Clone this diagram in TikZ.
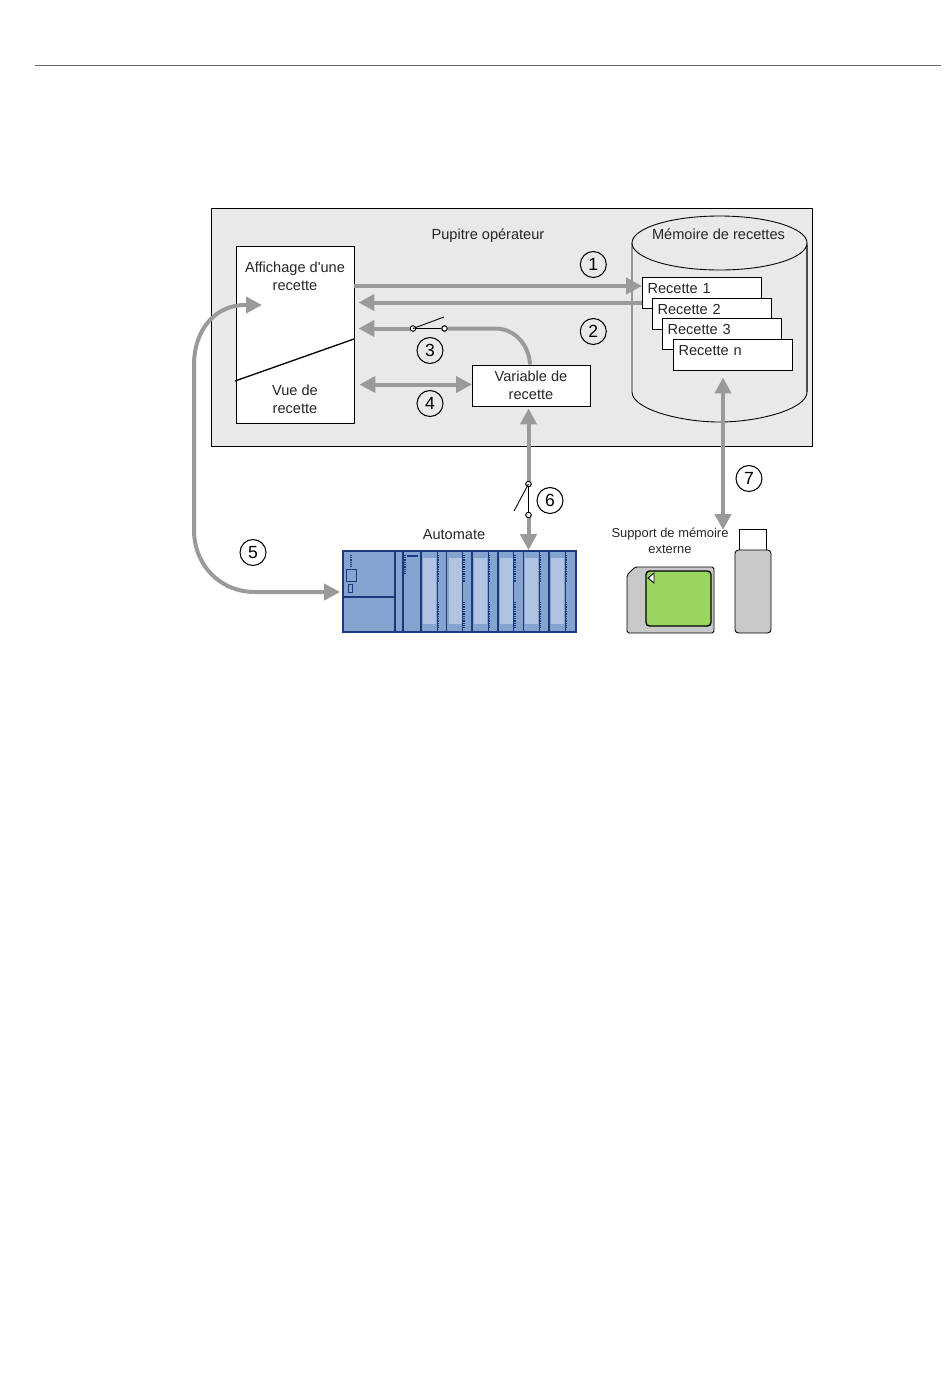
\documentclass[tikz,border=0pt]{standalone}
\usepackage{fontspec}
\setmainfont[Ligatures=TeXOff]{Liberation Sans}
\usetikzlibrary{arrows.meta,positioning}

\definecolor{fondgris}{HTML}{E9E9E9}
\definecolor{flechegris}{HTML}{9A9A9A}
\definecolor{plcbleu}{HTML}{85A3CF}
\definecolor{plcclair}{HTML}{B0C4E0}
\definecolor{plcfonce}{HTML}{1A3A80}
\definecolor{cartegris}{HTML}{C8C8C8}
\definecolor{cartevert}{HTML}{9BD55F}

\begin{document}
\begin{tikzpicture}[
  x=0.02cm, y=-0.02cm,
  font=\fontsize{8.3}{10.2}\selectfont, >={Triangle[length=3.2mm,width=3.2mm]},
  lbl/.style={align=center, inner sep=0pt, text=black!85},
  boite/.style={draw=black, line width=0.5pt, fill=white, align=center, inner sep=0pt},
  rec/.style={boite, minimum width=2.38cm, minimum height=0.62cm, text width=2.16cm, align=left,
              text height=9.1pt, text depth=8.5pt, text=black!85},
  num/.style={circle, draw=black, line width=0.6pt, minimum size=0.52cm, inner sep=0pt,
              font=\fontsize{10}{12}\selectfont},
  fl/.style={line width=0.08cm, draw=flechegris},
  contact/.style={circle, draw=black, fill=white, line width=0.6pt, minimum size=0.11cm, inner sep=0pt},
  trait/.style={line width=0.5pt, draw=black},
  plc/.style={draw=plcfonce, line width=0.6pt},
]
\useasboundingbox (0,0) rectangle (950,1397);
% Filet du haut
\coordinate (hautg) at (35,65);
\coordinate (hautd) at (941,65);
\draw[line width=0.5pt, draw=black!60] (hautg) -- (hautd);

% Pupitre
\node[draw=black, line width=0.5pt, fill=fondgris, minimum width=12.02cm, minimum height=4.76cm, inner sep=0pt]
  (pupitre) at (511.8,327) {};
\node[lbl] (titre) at (488,235.5) {Pupitre opérateur};

% Memoire de recettes
\draw[trait, fill=fondgris] (632,243) -- (632,392) .. controls (632,409) and (680,422) .. (719.5,422)
  .. controls (759,422) and (807,409) .. (807,392) -- (807,243);
\draw[line width=1pt, draw=black!70] (807,245) -- (807,392);
\draw[trait, fill=fondgris] (719.5,243) ellipse [x radius=87.5, y radius=27];
\node[lbl] (memoire) at (718.5,234.5) {Mémoire de recettes};
\node[rec] (rec1) at (701.5,292.5) {Recette 1};
\node[rec] (rec2) at (711.5,313.5) {Recette 2};
\node[rec] (rec3) at (721.5,333.5) {Recette 3};
\node[rec] (recn) at (732.5,354.5) {Recette n};

% Ecran et variable
\node[boite, minimum width=2.36cm, minimum height=3.54cm] (ecran) at (295,334.5) {};
\draw[line width=0.75pt, draw=black] (235,381) -- (354,339);
\node[lbl] (affichage) at (295,276) {Affichage d'une\\recette};
\node[lbl] (vue) at (295,399.5) {Vue de\\recette};
\node[boite, minimum width=2.36cm, minimum height=0.82cm, text=black!85] (var) at (531,385.5) {Variable de\\recette};

% Automate
\node[draw=plcfonce, line width=0.9pt, fill=plcbleu, minimum width=4.66cm, minimum height=1.62cm, inner sep=0pt]
  (automate) at (459.5,591.5) {};
\node[lbl] (autolbl) at (454,535) {Automate};
\draw[plc, line width=1pt] (395,551) -- (395,632);
\draw[plc, line width=0.9pt] (343,597) -- (395,597);
\draw[plc] (403,551) -- (403,632);
\draw[plc, line width=0.4pt] (346,569) rectangle (356,581);
\draw[plc, line width=0.4pt] (348,584) rectangle (352,592);
\draw[plc, line width=1.2pt, dash pattern=on 0.5pt off 0.5pt] (351,555) -- (351,566);
\draw[plc, line width=1.2pt, dash pattern=on 0.5pt off 0.5pt] (404.5,555) -- (404.5,574);
\draw[plc, line width=1pt] (407,556) -- (418,556);
\foreach \xm in {421,446.6,472.2,497.8,523.4,549}{
  \fill[plcclair] (\xm+2,558) rectangle (\xm+15,624);
  \draw[plc, line width=1pt] (\xm,551) -- (\xm,632);
  \draw[plc, line width=0.4pt] (\xm+16,551) -- (\xm+16,632);
  \draw[plc, line width=1.2pt, dash pattern=on 0.5pt off 0.5pt] (\xm+17,555) -- (\xm+17,582);
  \draw[plc, line width=1.2pt, dash pattern=on 0.5pt off 0.5pt] (\xm+17,602) -- (\xm+17,628);
}

% Support externe
\node[lbl, font=\fontsize{7.35}{9.1}\selectfont] (support) at (670,541) {Support de mémoire\\externe};
\draw[trait, fill=cartegris, rounded corners=1pt] (627,575) -- (635,567) -- (714,567) -- (714,633) -- (627,633) -- cycle;
\draw[line width=0.8pt, draw=black, fill=cartevert, rounded corners=2pt] (646,571) rectangle (711,626);
\draw[trait, fill=white] (648,578) -- (654,573) -- (654,583) -- cycle;
\node[boite, minimum width=0.54cm, minimum height=0.42cm] (capot) at (752.5,539.5) {};
\draw[trait, fill=cartegris, rounded corners=2pt] (735,550) rectangle (771,633);

% Fleches
\coordinate (r1) at (642,286);
\coordinate (r2) at (642,302.5);
\draw[fl,->] (ecran.east |- r1) -- (r1);
\draw[fl,->, shorten >=0.08cm] (r2) -- (ecran.east |- r2);

\node[contact] (sw3a) at (413,328.5) {};
\node[contact] (sw3b) at (444.5,328.5) {};
\draw[fl,->, shorten >=0.08cm] (sw3a) -- (ecran.east |- sw3a);
\draw[fl] ([xshift=-0.02cm]var.north) .. controls (529,345) and (515,328.5) .. (495,328.5) -- (sw3b);
\draw[trait] (sw3a) -- (sw3b);
\draw[trait] (sw3a.center) -- (444,317);

\coordinate (a4) at (472,384.5);
\draw[fl,<->, shorten <=0.1cm] (ecran.east |- a4) -- (a4);

\node[contact] (sw6a) at (528.5,484) {};
\node[contact] (sw6b) at (528.5,515) {};
\draw[fl,<-, shorten <=0.04cm] (var.south -| sw6a) -- (sw6a);
\draw[fl,->] (sw6b) -- (automate.north -| sw6b);
\draw[trait] (sw6a) -- (sw6b);
\draw[trait] (sw6a.center) -- (514,511);

\coordinate (c7) at (723,530);
\draw[fl,<->, shorten <=0.14cm] (recn.south -| c7) -- (c7);

\coordinate (c5) at (262,305);
\draw[fl,<->, shorten >=0.04cm] (c5) -- (245,305) .. controls (215,305) and (194,330) .. (194,365)
  -- (194,530) .. controls (194,565) and (220,592) .. (255,592) -- (automate.west |- 0,592);

% Numeros
\node[num] (n1) at (593.3,264.5) {1};
\node[num] (n2) at (593.3,331.5) {2};
\node[num] (n3) at (430,350.5) {3};
\node[num] (n4) at (430,403.5) {4};
\node[num] (n5) at (253,552.5) {5};
\node[num] (n6) at (550,500.5) {6};
\node[num] (n7) at (749,478.5) {7};
\end{tikzpicture}
\end{document}
